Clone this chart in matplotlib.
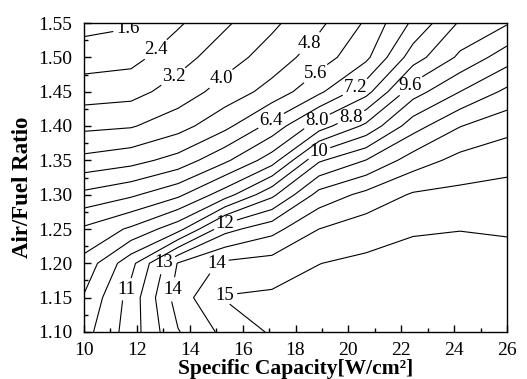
import numpy as np
import matplotlib.pyplot as plt
from matplotlib.ticker import MultipleLocator

plt.rcParams['font.family'] = ['Liberation Serif', 'DejaVu Serif']

# grid of the map (specific capacity x air/fuel ratio)
capacity = np.linspace(10, 26, 10)
ratio = np.linspace(1.10, 1.55, 10)

# values, rows from 1.10 (bottom) to 1.55 (top)
row_110 = [10.10, 11.58, 13.55, 14.62, 15.30, 15.40, 15.45, 15.50, 15.55, 15.50]
row_115 = [9.67, 11.52, 13.98, 15.25, 15.35, 15.45, 15.50, 15.55, 15.60, 15.50]
row_120 = [9.06, 10.94, 13.65, 14.56, 14.73, 15.19, 15.35, 15.45, 15.50, 15.40]
row_125 = [8.13, 8.93, 10.10, 12.52, 13.32, 14.40, 14.86, 15.13, 15.18, 15.14]
row_130 = [6.60, 7.06, 7.82, 9.23, 11.00, 13.09, 13.82, 14.49, 14.61, 14.68]
row_135 = [5.03, 5.31, 5.90, 7.04, 8.42, 11.09, 12.02, 13.18, 13.86, 14.13]
row_140 = [3.81, 3.93, 4.48, 5.38, 6.68, 8.41, 9.78, 11.65, 12.77, 13.33]
row_145 = [2.81, 2.92, 3.55, 4.33, 5.09, 6.23, 7.71, 10.04, 11.20, 12.18]
row_150 = [2.01, 2.14, 2.88, 3.64, 4.36, 5.21, 6.21, 8.42, 9.76, 10.83]
row_155 = [1.33, 1.50, 2.29, 3.08, 3.84, 4.63, 5.70, 7.35, 8.90, 9.53]

levels = np.arange(1.6, 15.3, 0.8)

# where each level's label sits (one per level, same order)
label_x = [11.63, 12.76, 13.40, 15.18, 18.70, 18.70, 17.00, 20.14, 18.78,
           20.10, 22.22, 18.89, 11.51, 15.22, 12.87, 13.14, 14.65, 15.11]
label_y = [1.544, 1.511, 1.471, 1.468, 1.514, 1.479, 1.412, 1.463, 1.409,
           1.412, 1.464, 1.362, 1.164, 1.270, 1.212, 1.164, 1.212, 1.164]

Z = np.array([row_110, row_115, row_120, row_125, row_130,
              row_135, row_140, row_145, row_150, row_155])


def fmt(v):
    if v < 10:
        return f'{v:.1f}'
    return f'{v:.0f}'


fig = plt.figure(figsize=(5.27, 3.79), dpi=100)
ax = fig.add_axes([84 / 527, 1 - 332 / 379, 423 / 527, 309 / 379])
ax.set_xlim(10, 26)
ax.set_ylim(1.10, 1.55)

cs = ax.contour(capacity, ratio, Z, levels=levels, colors='k', linewidths=0.8)

# snap every wanted label spot onto its own level's line
spots = []
for path, lx, ly in zip(cs.get_paths(), label_x, label_y):
    target = ax.transData.transform((lx, ly))
    best, best_d = None, np.inf
    for poly in path.to_polygons(closed_only=False):
        if len(poly) < 2:
            continue
        t = np.linspace(0, 1, 30)
        pts = np.concatenate([a + (b - a) * t[:, None] for a, b in zip(poly[:-1], poly[1:])])
        d = ((ax.transData.transform(pts) - target) ** 2).sum(axis=1)
        k = np.argmin(d)
        if d[k] < best_d:
            best, best_d = pts[k], d[k]
    if best is not None:
        spots.append((best[0], best[1]))

texts = ax.clabel(cs, inline=True, fmt=fmt, fontsize=13.5, inline_spacing=3,
                  manual=spots)
for t in texts:
    t.set_rotation(0)

ax.xaxis.set_major_locator(MultipleLocator(2))
ax.xaxis.set_minor_locator(MultipleLocator(1))
ax.yaxis.set_major_locator(MultipleLocator(0.05))
ax.yaxis.set_minor_locator(MultipleLocator(0.025))
ax.yaxis.set_major_formatter(plt.FormatStrFormatter('%.2f'))
ax.tick_params(which='both', direction='in', labelsize=14, width=1)
ax.tick_params(which='major', length=5)
ax.tick_params(which='minor', length=3)
ax.tick_params(axis='x', which='major', pad=7)
ax.tick_params(axis='y', which='major', pad=8.5)
for s in ax.spines.values():
    s.set_linewidth(1)

ax.set_xlabel('Specific Capacity[W/cm²]', fontsize=15.5, fontweight='bold', labelpad=0)
ax.set_ylabel('Air/Fuel Ratio', fontsize=16.5, fontweight='bold')
ax.yaxis.set_label_coords(-0.12, 0.468)

fig.savefig('out.png', dpi=100)
